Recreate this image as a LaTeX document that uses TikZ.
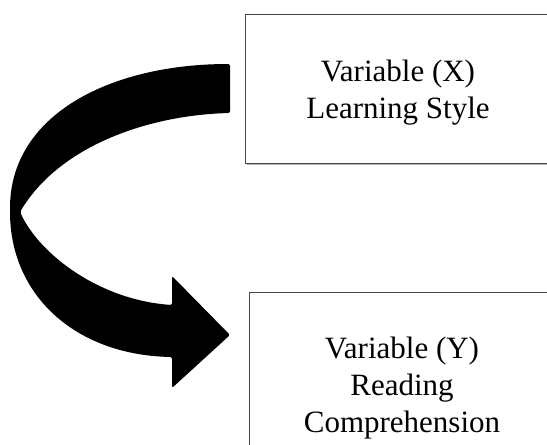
\documentclass[tikz,border=0pt]{standalone}
\usepackage{fontspec}
\setmainfont{Liberation Serif}
\usetikzlibrary{shadows}
\begin{document}
\begin{tikzpicture}[x=1pt,y=-1pt,
  varbox/.style={draw=black!72, line width=1pt, fill=white, inner sep=0pt,
    drop shadow={shadow xshift=1pt, shadow yshift=-1.5pt, fill=black!30, opacity=1}},
  vartext/.style={font=\fontsize{31}{37}\selectfont, align=center, inner sep=0pt},
  bigarrow/.style={fill=black, draw=none, rounded corners=2pt}]
\useasboundingbox (0,0) rectangle (547,445);
\clip (0,0) rectangle (547,445);

% the two variable boxes (both run past the right edge)
\node[varbox, anchor=north west, minimum width=306pt, minimum height=149pt] (boxX) at (245,14) {};
\node[varbox, anchor=north west, minimum width=306pt, minimum height=175pt] (boxY) at (249,292) {};

% anchor=base sits on the last line's baseline
\node[vartext, anchor=base] (txtX) at (398,118) {Variable (X)\\Learning Style};
\node[vartext, anchor=base] (txtY) at (402,432) {Variable (Y)\\Reading\\Comprehension};

% key points of the curved block arrow
\coordinate (aTailTop)   at (230,64);
\coordinate (aTailLow)   at (230,113);
\coordinate (aOuterLeft) at (10,210);
\coordinate (aCusp)      at (20,212);
\coordinate (aShaftLow)  at (172,357);
\coordinate (aShaftUp)   at (172,305);
\coordinate (aHeadTop)   at (172,276);
\coordinate (aHeadLow)   at (172,388);
\coordinate (aTip)       at (230,335);

\fill[bigarrow]
  (aTailTop) .. controls (110,64) and (10,115) .. (aOuterLeft)
  .. controls (10,295) and (75,355) .. (aShaftLow)
  -- (aHeadLow) -- (aTip) -- (aHeadTop) -- (aShaftUp)
  .. controls (100,300) and (40,255) .. (aCusp)
  .. controls (60,145) and (150,115) .. (aTailLow)
  -- cycle;
\end{tikzpicture}
\end{document}
